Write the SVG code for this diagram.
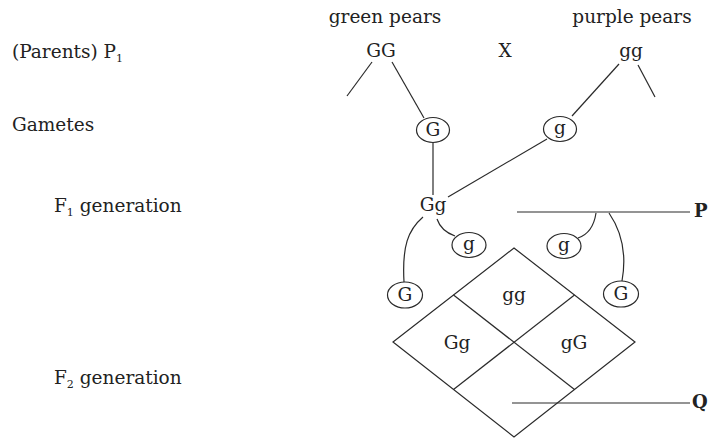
<svg xmlns="http://www.w3.org/2000/svg" width="708" height="440" viewBox="0 0 708 440">
  <style>
    text { font-family: "DejaVu Serif", "Liberation Serif", serif; font-size: 18.5px; fill: #222; }
    .mid { text-anchor: middle; }
    .sub { font-size: 11px; }
    .tag { font-weight: bold; font-size: 18px; }
    .ln { stroke: #2a2a2a; stroke-width: 1.2; fill: none; }
    .gam ellipse { stroke: #2a2a2a; stroke-width: 1.2; fill: #fff; }
  </style>
  <rect width="708" height="440" fill="#fff"/>

  <!-- row labels -->
  <g id="row-labels">
    <text x="12" y="58">(Parents) P<tspan class="sub" dy="4">1</tspan></text>
    <text x="12" y="131">Gametes</text>
    <text x="54" y="212">F<tspan class="sub" dy="4">1</tspan><tspan dy="-4"> generation</tspan></text>
    <text x="54" y="384">F<tspan class="sub" dy="4">2</tspan><tspan dy="-4"> generation</tspan></text>
  </g>

  <!-- connectors -->
  <g id="connectors" class="ln">
    <line x1="372" y1="62" x2="347" y2="96"/>
    <line x1="392" y1="62" x2="424" y2="118"/>
    <line x1="619" y1="64" x2="572" y2="116"/>
    <line x1="638" y1="65" x2="655" y2="97"/>
    <line x1="433" y1="142" x2="433" y2="195"/>
    <line x1="547" y1="139" x2="448" y2="197"/>
    <path d="M423,217 C408,230 402,246 404,282"/>
    <path d="M437,219 Q441,231 455,236"/>
    <path d="M596,213 Q593,233 578,238"/>
    <path d="M609,213 Q629,242 622,281"/>
    <line x1="517" y1="212" x2="690" y2="212"/>
    <line x1="512" y1="403" x2="690" y2="403"/>
  </g>

  <!-- parents -->
  <g id="parent-green">
    <text class="mid" x="385" y="23">green pears</text>
    <text class="mid" x="381" y="57">GG</text>
  </g>
  <g id="cross">
    <text class="mid" x="505" y="57">X</text>
  </g>
  <g id="parent-purple">
    <text class="mid" x="632" y="23">purple pears</text>
    <text class="mid" x="631" y="57">gg</text>
  </g>

  <!-- gametes of P1 -->
  <g id="gamete-G1" class="gam">
    <ellipse cx="433" cy="130" rx="16.5" ry="12.5"/>
    <text class="mid" x="433" y="136">G</text>
  </g>
  <g id="gamete-g1" class="gam">
    <ellipse cx="560" cy="129" rx="16.5" ry="12.5"/>
    <text class="mid" x="560" y="134">g</text>
  </g>

  <!-- F1 -->
  <g id="f1">
    <text class="mid" x="433" y="211">Gg</text>
  </g>

  <!-- gametes of F1 -->
  <g id="gamete-g2" class="gam">
    <ellipse cx="469" cy="245" rx="17" ry="12.5"/>
    <text class="mid" x="469" y="250">g</text>
  </g>
  <g id="gamete-G2" class="gam">
    <ellipse cx="405" cy="295" rx="17.5" ry="13"/>
    <text class="mid" x="405" y="301">G</text>
  </g>
  <g id="gamete-g3" class="gam">
    <ellipse cx="564" cy="246" rx="17" ry="12.5"/>
    <text class="mid" x="564" y="251">g</text>
  </g>
  <g id="gamete-G3" class="gam">
    <ellipse cx="621" cy="294" rx="17.5" ry="13"/>
    <text class="mid" x="621" y="300">G</text>
  </g>

  <!-- F2 grid -->
  <g id="f2-grid">
    <polygon class="ln" points="514,248 635,342 514,437 393,342"/>
    <line class="ln" x1="453.5" y1="295" x2="574.5" y2="389.5"/>
    <line class="ln" x1="574.5" y1="295" x2="453.5" y2="389.5"/>
    <text class="mid" x="514" y="301">gg</text>
    <text class="mid" x="457" y="349">Gg</text>
    <text class="mid" x="574" y="349">gG</text>
  </g>

  <!-- pointer labels -->
  <g id="label-P"><text class="tag" x="694" y="217">P</text></g>
  <g id="label-Q"><text class="tag" x="692" y="408">Q</text></g>
</svg>
